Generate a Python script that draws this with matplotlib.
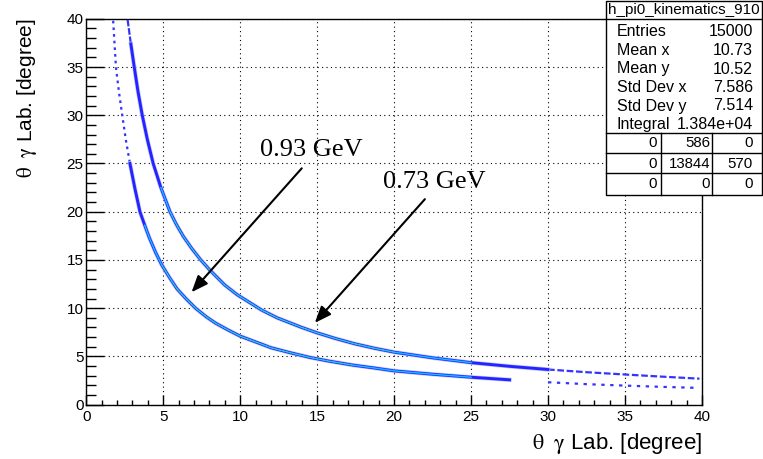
import numpy as np
import matplotlib
matplotlib.use("Agg")
import matplotlib.pyplot as plt
from matplotlib.ticker import MultipleLocator

plt.rcParams['font.family'] = ['Liberation Sans', 'DejaVu Sans']
plt.rcParams['mathtext.fontset'] = 'stix'

# curve: 0.93 GeV (inner band)
x_093 = [1.75, 1.84, 1.93, 2.12, 2.34, 2.57, 2.84, 3.15, 3.49, 3.8, 4.1, 4.5, 4.9, 5.4, 5.9, 6.5, 7.1, 7.8, 8.4,
         9.2, 10.0, 11.0, 12.0, 13.2, 14.5, 15.8, 17.3, 18.7, 20.0, 22.5, 25.0, 27.5, 30.0, 32.5, 35.0, 37.4, 39.6]
y_093 = [39.8, 37.4, 35.0, 32.5, 30.0, 27.5, 25.0, 22.5, 20.0, 18.6, 17.3, 15.8, 14.5, 13.2, 12.0, 10.95, 10.0, 9.1, 8.45,
         7.75, 7.1, 6.5, 5.9, 5.4, 4.9, 4.5, 4.1, 3.8, 3.5, 3.15, 2.84, 2.57, 2.32, 2.12, 1.97, 1.84, 1.74]

# 0.73 GeV (outer band)
x_073 = [2.69, 2.9, 3.12, 3.36, 3.64, 3.97, 4.35, 4.85, 5.44, 5.85, 6.3, 6.85, 7.44, 8.03, 8.5, 9.0, 9.8, 10.6,
         11.4, 12.4, 13.2, 13.95, 15.0, 16.2, 17.46, 18.7, 20.0, 22.5, 25.0, 27.5, 30.0, 32.5, 35.0, 37.4, 39.84]
y_073 = [39.9, 37.4, 35.0, 32.5, 30.0, 27.5, 25.0, 22.5, 20.0, 18.7, 17.46, 16.2, 15.0, 13.95, 13.2, 12.4, 11.4, 10.6,
         9.8, 9.0, 8.5, 8.03, 7.44, 6.85, 6.3, 5.85, 5.44, 4.85, 4.35, 3.97, 3.64, 3.36, 3.12, 2.9, 2.69]

labels = ["0.93 GeV", "0.73 GeV"]
label_pos = [(11.3, 25.8), (19.3, 22.5)]
arrow_from = [(14.0, 24.5), (22.0, 21.3)]
arrow_to = [(6.84, 11.65), (14.85, 8.47)]

stats_title = "h_pi0_kinematics_910"
stats_names = ["Entries", "Mean x", "Mean y", "Std Dev x", "Std Dev y", "Integral"]
stats_values = ["15000", "10.73", "10.52", "7.586", "7.514", "1.384e+04"]
overflow = [["0", "586", "0"], ["0", "13844", "570"], ["0", "0", "0"]]


def draw_band(ax, x, y, dense, core, green, top_ls, bot_ls):
    x = np.array(x)
    y = np.array(y)
    lo = x <= dense[0]
    hi = x >= dense[1]
    if lo.sum() > 1:
        ax.plot(x[lo], y[lo], color='#3434ff', lw=1.6, ls=top_ls, zorder=3)
    if hi.sum() > 1:
        ax.plot(x[hi], y[hi], color='#3434ff', lw=1.6, ls=bot_ls, zorder=3)
    d = (x >= dense[0]) & (x <= dense[1])
    ax.plot(x[d], y[d], color='#c8c8ff', lw=3.1, zorder=3)
    ax.plot(x[d], y[d], color='#2424ff', lw=2.1, zorder=3)
    c = (x >= core[0]) & (x <= core[1])
    ax.plot(x[c], y[c], color='#10c0ff', lw=1.0, zorder=4)
    g = (x >= green[0]) & (x <= green[1])
    ax.plot(x[g], y[g], color='#50d870', lw=0.5, ls=(0, (3, 2)), zorder=5)


fig = plt.figure(figsize=(7.63, 4.59), dpi=100)
ax = fig.add_axes([0.113, 0.1185, 0.807, 0.8405])

draw_band(ax, x_093, y_093, (2.84, 28.0), (3.8, 25.0), (4.9, 17.3), (0, (1.2, 1.8)), (0, (1.5, 2.5)))
draw_band(ax, x_073, y_073, (2.9, 30.0), (4.85, 25.0), (5.44, 20.0), (0, (3, 0.8)), (0, (3, 1.2)))

for txt, pos in zip(labels, label_pos):
    ax.text(pos[0], pos[1], txt, fontsize=19, family='Liberation Serif', ha='left', va='baseline', zorder=6)
for a, b in zip(arrow_from, arrow_to):
    ax.annotate("", xy=b, xytext=a,
                arrowprops=dict(arrowstyle='-|>,head_length=1.0,head_width=0.4', color='black', lw=1.5,
                                shrinkA=0, shrinkB=0),
                zorder=6)

ax.set_xlim(0, 40)
ax.set_ylim(0, 40)
ax.xaxis.set_major_locator(MultipleLocator(5))
ax.xaxis.set_minor_locator(MultipleLocator(1))
ax.yaxis.set_major_locator(MultipleLocator(5))
ax.yaxis.set_minor_locator(MultipleLocator(1))
ax.tick_params(axis='x', which='major', direction='in', length=7.2, width=1, labelsize=11, pad=4)
ax.tick_params(axis='x', which='minor', direction='in', length=3.6, width=1)
ax.tick_params(axis='y', which='major', direction='in', length=13, width=1, labelsize=11, pad=2)
ax.tick_params(axis='y', which='minor', direction='in', length=7, width=1)
ax.grid(True, which='major', color='black', ls=(0, (1, 3)), lw=0.8)
for s in ax.spines.values():
    s.set_linewidth(1)

ax.set_xlabel(r"$\mathrm{\theta\ \ \gamma}$ Lab. [degree]", fontsize=16, ha='right', x=1.0, labelpad=5)
ax.set_ylabel(r"$\mathrm{\theta\ \ \gamma}$ Lab. [degree]", fontsize=15, ha='right', y=1.0, labelpad=20)

# stats box (figure pixel coords converted)
W, H = 763.0, 459.0
def fx(px):
    return px / W
def fy(py):
    return 1 - py / H

box_l, box_r, box_t, box_b = 606, 762, 1, 195
fig.patches.append(plt.Rectangle((fx(box_l), fy(box_b)), fx(box_r) - fx(box_l), fy(box_t) - fy(box_b),
                                 transform=fig.transFigure, facecolor='white', edgecolor='black', lw=1, zorder=10))
def hline(py, l=box_l, r=box_r):
    fig.add_artist(plt.Line2D([fx(l), fx(r)], [fy(py), fy(py)], transform=fig.transFigure, color='black', lw=1, zorder=11))
def vline(px, t, b):
    fig.add_artist(plt.Line2D([fx(px), fx(px)], [fy(t), fy(b)], transform=fig.transFigure, color='black', lw=1, zorder=11))

hline(19)
fig.text(fx(684), fy(10), stats_title, fontsize=11, ha='center', va='center', zorder=12)
for i, (n, v) in enumerate(zip(stats_names, stats_values)):
    yy = 32 + i * 18.5
    fig.text(fx(617), fy(yy), n, fontsize=11.5, ha='left', va='center', zorder=12)
    fig.text(fx(753), fy(yy), v, fontsize=11.5, ha='right', va='center', zorder=12)
for py in (133, 153, 173):
    hline(py)
vline(661, 133, box_b)
vline(712, 133, box_b)
col_right = [657, 710, 753]
for r, row in enumerate(overflow):
    yy = 143.5 + r * 20
    for c, v in enumerate(row):
        fig.text(fx(col_right[c]), fy(yy), v, fontsize=10.8, ha='right', va='center', zorder=12)

fig.savefig("out.png", dpi=100)
